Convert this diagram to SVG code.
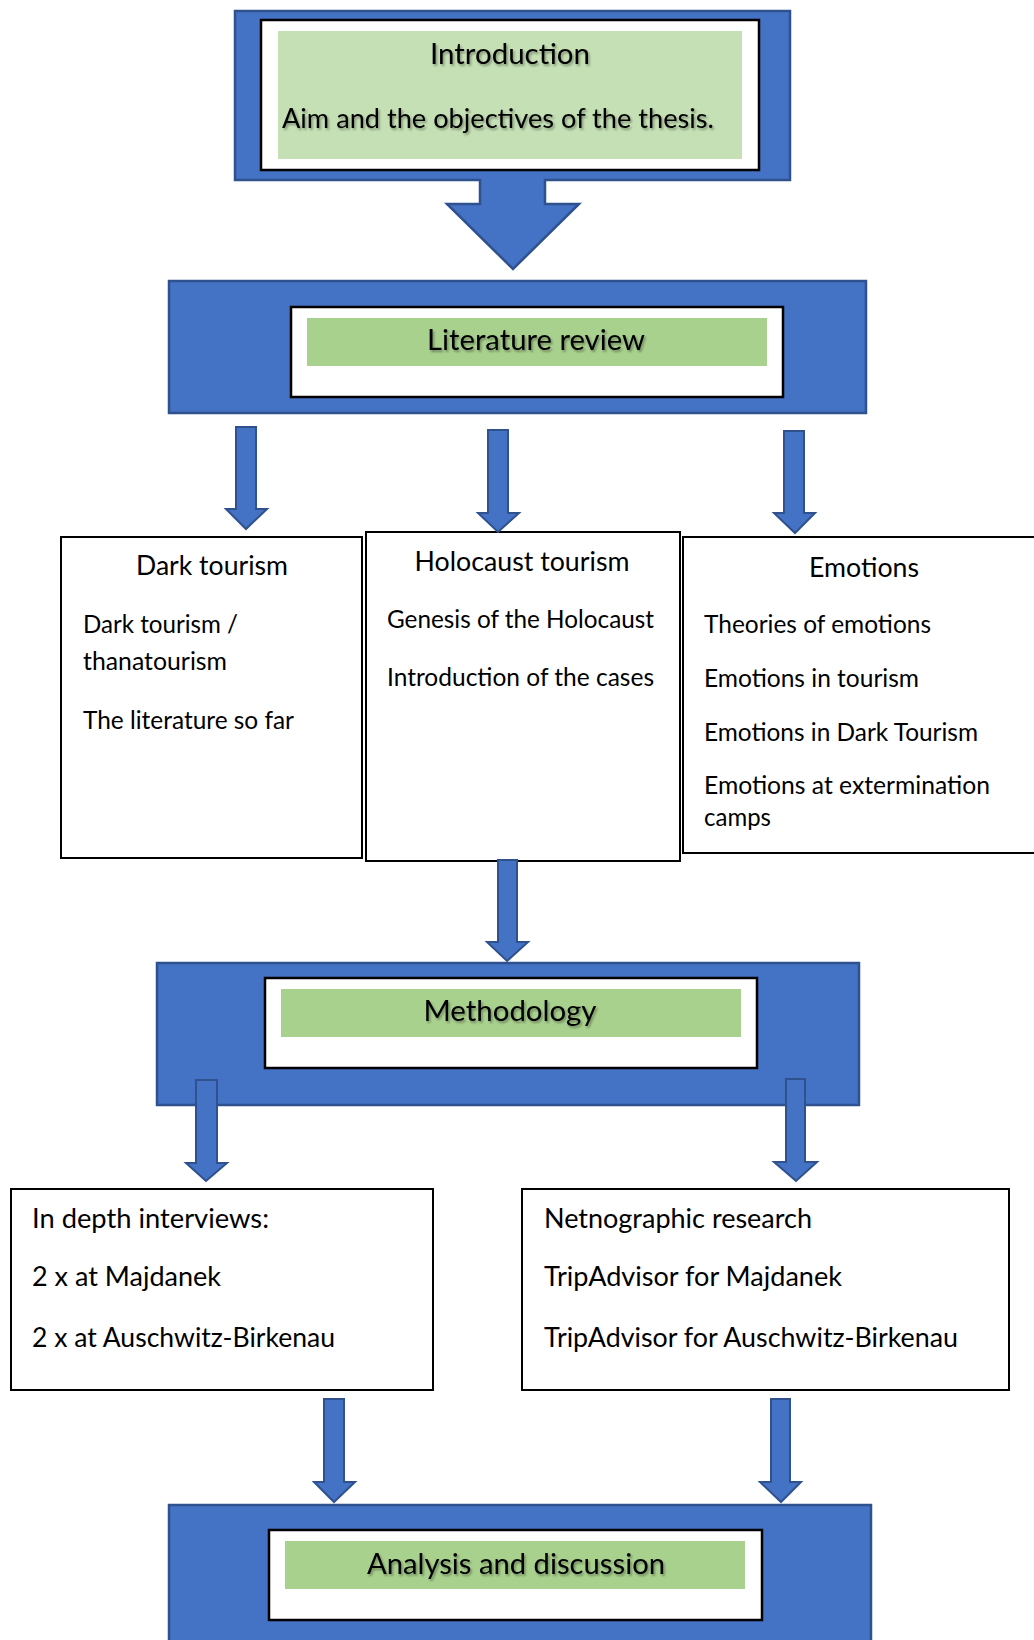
<svg xmlns="http://www.w3.org/2000/svg" width="1034" height="1640" viewBox="0 0 1034 1640">
  <defs>
    <style>
      .band { fill: #4472C4; stroke: #2F528F; stroke-width: 2.5; }
      .panel { fill: #FFFFFF; stroke: #000000; stroke-width: 2.5; }
      .box { fill: #FFFFFF; stroke: #000000; stroke-width: 2; }
      .green { fill: #A9D18E; }
      .green-light { fill: #C5E0B4; }
      .arrow { fill: #4472C4; stroke: #2F528F; stroke-width: 2; stroke-linejoin: miter; }
      text { font-family: Lato, "Liberation Sans", sans-serif; fill: #000000; }
      .title { font-size: 29.5px; text-anchor: middle; }
      .sub { font-size: 27px; }
      .head { font-size: 27px; text-anchor: middle; }
      .body { font-size: 24.5px; }
      .big { font-size: 27px; }
    </style>
    <filter id="shadow" x="-10%" y="-30%" width="120%" height="160%">
      <feDropShadow dx="1.5" dy="2" stdDeviation="1" flood-color="#000000" flood-opacity="0.35"/>
    </filter>
  </defs>

  <rect width="1034" height="1640" fill="#FFFFFF"/>

  <!-- Introduction: banner with a downward callout arrow -->
  <g id="introduction">
    <path class="band" d="M235,11 H790 V180 H545 V204 H579 L513,269 L447,204 H480 V180 H235 Z"/>
    <rect class="panel" x="261" y="20" width="498" height="150"/>
    <rect class="green-light" x="278" y="31" width="464" height="128"/>
    <g filter="url(#shadow)">
      <text class="title" x="510" y="64" textLength="160" lengthAdjust="spacingAndGlyphs">Introduction</text>
      <text class="sub" x="282" y="128" textLength="432" lengthAdjust="spacingAndGlyphs">Aim and the objectives of the thesis.</text>
    </g>
  </g>

  <!-- Literature review banner -->
  <g id="literature-review">
    <rect class="band" x="169" y="281" width="697" height="132"/>
    <rect class="panel" x="291" y="307" width="492" height="90"/>
    <rect class="green" x="307" y="318" width="460" height="48"/>
    <text class="title" x="536" y="350" textLength="218" lengthAdjust="spacingAndGlyphs" filter="url(#shadow)">Literature review</text>
  </g>

  <!-- Dark tourism -->
  <g id="dark-tourism">
    <rect class="box" x="61" y="537" width="301" height="321"/>
    <text class="head" x="212" y="575" textLength="152" lengthAdjust="spacingAndGlyphs">Dark tourism</text>
    <text class="body" x="83" y="633" textLength="155" lengthAdjust="spacingAndGlyphs">Dark tourism /</text>
    <text class="body" x="83" y="670" textLength="144" lengthAdjust="spacingAndGlyphs">thanatourism</text>
    <text class="body" x="83" y="729" textLength="211" lengthAdjust="spacingAndGlyphs">The literature so far</text>
  </g>

  <!-- Holocaust tourism -->
  <g id="holocaust-tourism">
    <rect class="box" x="366" y="532" width="314" height="329"/>
    <text class="head" x="522" y="571" textLength="215" lengthAdjust="spacingAndGlyphs">Holocaust tourism</text>
    <text class="body" x="387" y="628" textLength="267" lengthAdjust="spacingAndGlyphs">Genesis of the Holocaust</text>
    <text class="body" x="387" y="686" textLength="267" lengthAdjust="spacingAndGlyphs">Introduction of the cases</text>
  </g>

  <!-- Emotions -->
  <g id="emotions">
    <rect class="box" x="683" y="537" width="360" height="316"/>
    <text class="head" x="864" y="577" textLength="110" lengthAdjust="spacingAndGlyphs">Emotions</text>
    <text class="body" x="704" y="633" textLength="227" lengthAdjust="spacingAndGlyphs">Theories of emotions</text>
    <text class="body" x="704" y="687" textLength="215" lengthAdjust="spacingAndGlyphs">Emotions in tourism</text>
    <text class="body" x="704" y="741" textLength="274" lengthAdjust="spacingAndGlyphs">Emotions in Dark Tourism</text>
    <text class="body" x="704" y="794" textLength="286" lengthAdjust="spacingAndGlyphs">Emotions at extermination</text>
    <text class="body" x="704" y="826" textLength="67" lengthAdjust="spacingAndGlyphs">camps</text>
  </g>

  <!-- Methodology banner -->
  <g id="methodology">
    <rect class="band" x="157" y="963" width="702" height="142"/>
    <rect class="panel" x="265" y="978" width="492" height="90"/>
    <rect class="green" x="281" y="989" width="460" height="48"/>
    <text class="title" x="510" y="1021" textLength="173" lengthAdjust="spacingAndGlyphs" filter="url(#shadow)">Methodology</text>
  </g>

  <!-- In depth interviews -->
  <g id="interviews">
    <rect class="box" x="11" y="1189" width="422" height="201"/>
    <text class="big" x="32" y="1228" textLength="237" lengthAdjust="spacingAndGlyphs">In depth interviews:</text>
    <text class="big" x="32" y="1286" textLength="189" lengthAdjust="spacingAndGlyphs">2 x at Majdanek</text>
    <text class="big" x="32" y="1347" textLength="303" lengthAdjust="spacingAndGlyphs">2 x at Auschwitz-Birkenau</text>
  </g>

  <!-- Netnographic research -->
  <g id="netnography">
    <rect class="box" x="522" y="1189" width="487" height="201"/>
    <text class="big" x="544" y="1228" textLength="268" lengthAdjust="spacingAndGlyphs">Netnographic research</text>
    <text class="big" x="544" y="1286" textLength="298" lengthAdjust="spacingAndGlyphs">TripAdvisor for Majdanek</text>
    <text class="big" x="544" y="1347" textLength="414" lengthAdjust="spacingAndGlyphs">TripAdvisor for Auschwitz-Birkenau</text>
  </g>

  <!-- Analysis and discussion banner -->
  <g id="analysis-discussion">
    <rect class="band" x="169" y="1505" width="702" height="145"/>
    <rect class="panel" x="269" y="1530" width="493" height="90"/>
    <rect class="green" x="285" y="1541" width="460" height="48"/>
    <text class="title" x="516" y="1574" textLength="298" lengthAdjust="spacingAndGlyphs" filter="url(#shadow)">Analysis and discussion</text>
  </g>

  <!-- Block arrows between stages -->
  <g id="connectors">
    <path class="arrow" d="M236,427 H256 V509 H267 L246,529 L226,509 H236 Z"/>
    <path class="arrow" d="M488,430 H508 V513 H519 L498,532 L478,513 H488 Z"/>
    <path class="arrow" d="M784,431 H804 V513 H815 L795,533 L774,513 H784 Z"/>
    <path class="arrow" d="M498,860 H517 V942 H528 L507,961 L487,942 H498 Z"/>
    <path class="arrow" d="M196,1080 H217 V1163 H227 L206,1181 L186,1163 H196 Z"/>
    <path class="arrow" d="M786,1079 H805 V1162 H817 L796,1181 L774,1162 H786 Z"/>
    <path class="arrow" d="M324,1399 H344 V1482 H355 L334,1502 L314,1482 H324 Z"/>
    <path class="arrow" d="M771,1399 H790 V1482 H801 L781,1502 L760,1482 H771 Z"/>
  </g>
</svg>
